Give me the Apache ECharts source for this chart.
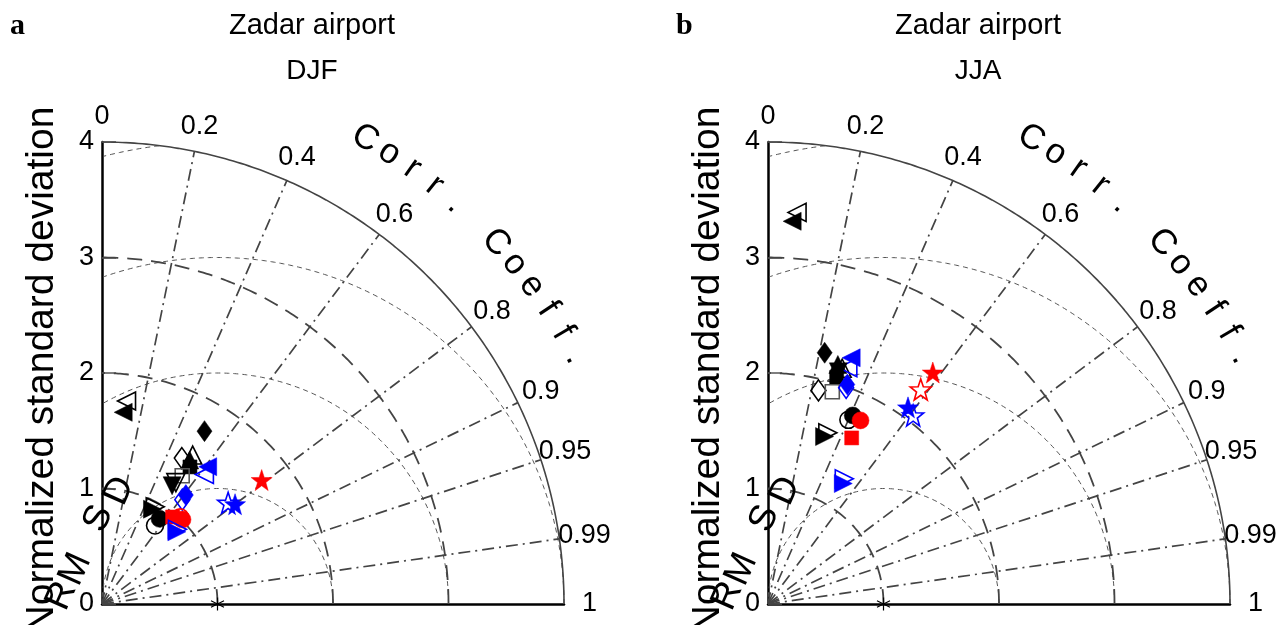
<!DOCTYPE html>
<html><head><meta charset="utf-8">
<script src="https://cdn.jsdelivr.net/npm/echarts@6/dist/echarts.min.js"></script>
<style>html,body{margin:0;padding:0;background:#fff}#c{width:1279px;height:625px}</style>
</head><body><div id="c"></div>
<script>
// ---------- data ----------
const panelLetters = ['a', 'b'];
const siteTitle = 'Zadar airport';
const seasons = ['DJF', 'JJA'];
const corrTickLabels = [0, 0.2, 0.4, 0.6, 0.8, 0.9, 0.95, 0.99, 1];
const corrRays = [0.2, 0.4, 0.6, 0.8, 0.9, 0.95, 0.99];
const sdArcs = [1, 2, 3];
const rmsdArcs = [1, 2, 3, 4];
const sdMax = 4;
const refStd = 1;
const corrTitle = ['C','o','r','r','.',' ','C','o','e','f','f','.'];
const rmsdTitle = ['R','M','S','D'];

// marker definitions (shape, colour, filled)
const markerShape  = ['ltri','ltri','diamond','diamond','utri','utri','square','square','ltri','ltri','dtri','dtri','diamond','diamond','rtri','rtri','circle','circle','square','circle','circle','rtri','rtri','star','star','star','star'];
const markerColor  = ['#000','#000','#000','#000','#000','#000','#000','#555','#0000ff','#0000ff','#000','#000','#0000ff','#0000ff','#000','#000','#000','#000','#ff0000','#ff0000','#ff0000','#0000ff','#0000ff','#0000ff','#0000ff','#ff0000','#ff0000'];
const markerFilled = [true,false,true,false,true,false,true,false,true,false,true,false,true,false,true,false,true,false,true,true,false,true,false,true,false,true,false];

// normalized standard deviation and correlation per marker
const djfStd  = [1.67,1.77,1.74,1.44,1.46,1.51,1.41,1.31,1.50,1.43,1.19,1.23,1.19,1.14,0.93,0.96,0.89,0.82,0.97,1.01,1.01,0.90,0.92,1.44,1.40,1.75,null];
const djfCorr = [0.11,0.12,0.51,0.48,0.52,0.52,0.54,0.53,0.61,0.62,0.51,0.52,0.61,0.61,0.47,0.48,0.56,0.56,0.63,0.69,0.67,0.72,0.71,0.80,0.78,0.79,null];
const jjaStd  = [3.32,3.40,2.23,1.90,2.16,2.14,2.05,1.92,2.25,2.16,2.10,null,2.02,1.99,1.53,1.57,1.79,1.74,1.61,1.78,null,1.23,1.27,2.09,2.06,2.46,2.28];
const jjaCorr = [0.063,0.074,0.22,0.23,0.28,0.30,0.29,0.29,0.32,0.32,0.29,null,0.34,0.34,0.32,0.33,0.41,0.40,0.45,0.45,null,0.53,0.52,0.58,0.61,0.58,0.58];

// ---------- drawing ----------
const FONT = '"Liberation Sans", Arial, Helvetica, sans-serif';
const STAR = 'path://M0,-10L2.35,-3.24L9.51,-3.09L3.8,1.24L5.88,8.09L0,4L-5.88,8.09L-3.8,1.24L-9.51,-3.09L-2.35,-3.24Z';
const ASTER = 'path://M0,-10L0,10M-8.66,-5L8.66,5M-8.66,5L8.66,-5';
const gridLefts = [102, 768];
const panelData = [[djfStd, djfCorr], [jjaStd, jjaCorr]];

function toXY(sd, c) { return [sd * c, sd * Math.sqrt(Math.max(0, 1 - c * c))]; }

const grids = [], xAxes = [], yAxes = [], series = [], graphics = [];

function lineS(p, pts, color, width, type) {
  return { type: 'line', xAxisIndex: p, yAxisIndex: p, data: pts, showSymbol: false, symbol: 'none',
    silent: true, animation: false, z: 2, lineStyle: { color: color, width: width, type: type, opacity: 1 } };
}
function textS(p, items, fontSize) {
  return { type: 'scatter', xAxisIndex: p, yAxisIndex: p, symbolSize: 0, clip: false, silent: true,
    animation: false, z: 5, itemStyle: { opacity: 1 },
    label: { show: true, position: 'inside', formatter: '{b}', color: '#000', fontSize: fontSize, fontFamily: FONT,
      align: 'center', verticalAlign: 'middle', opacity: 1, textBorderWidth: 0 },
    data: items };
}

panelData.forEach(function (pd, p) {
  grids.push({ left: gridLefts[p], top: 142, width: 462, height: 462 });
  xAxes.push({ gridIndex: p, type: 'value', min: 0, max: sdMax,
    axisLine: { show: true, lineStyle: { color: '#000', width: 2.5 } },
    axisTick: { show: false }, axisLabel: { show: false }, splitLine: { show: false } });
  yAxes.push({ gridIndex: p, type: 'value', min: 0, max: sdMax, interval: 1,
    axisLine: { show: true, lineStyle: { color: '#000', width: 2.5 } },
    axisTick: { show: true, inside: true, length: 14, lineStyle: { color: '#555', width: 1.5 } },
    axisLabel: { fontSize: 27, color: '#000', fontFamily: FONT, margin: 8 },
    splitLine: { show: false } });

  // RMSD arcs (centered at reference point)
  rmsdArcs.forEach(function (r) {
    const pts = [];
    for (let a = 0; a <= 180; a += 0.25) {
      const t = a * Math.PI / 180;
      const x = refStd + r * Math.cos(t), y = r * Math.sin(t);
      if (x >= 0 && x * x + y * y <= sdMax * sdMax + 1e-6) pts.push([x, y]);
    }
    series.push(lineS(p, pts, '#555', 1, [5, 4]));
  });
  // SD arcs
  sdArcs.forEach(function (r) {
    const pts = [];
    for (let a = 0; a <= 90; a += 0.5) { const t = a * Math.PI / 180; pts.push([r * Math.cos(t), r * Math.sin(t)]); }
    series.push(lineS(p, pts, '#444', 1.8, [15, 9]));
  });
  // correlation rays
  corrRays.forEach(function (c) {
    series.push(lineS(p, [[0, 0], toXY(sdMax, c)], '#444', 1.7, [12, 5, 2, 5]));
  });
  // outer arc
  const outer = [];
  for (let a = 0; a <= 90; a += 0.5) { const t = a * Math.PI / 180; outer.push([sdMax * Math.cos(t), sdMax * Math.sin(t)]); }
  series.push(lineS(p, outer, '#444', 1.6, 'solid'));

  // correlation tick labels
  series.push(textS(p, corrTickLabels.map(function (c) {
    return { name: String(c), value: toXY(4.22, c) };
  }), 27));
  // Corr. Coeff. title letters
  series.push(textS(p, corrTitle.map(function (ch, i) {
    const ang = 60.5 - 3 * i;
    const t = ang * Math.PI / 180;
    return { name: ch, value: [4.63 * Math.cos(t), 4.63 * Math.sin(t)], label: { rotate: ang - 90 } };
  }), 35));
  // RMSD letters
  const rmsdPos = [[-0.35, 0.07], [-0.23, 0.30], [-0.03, 0.74], [0.15, 0.98]];
  series.push(textS(p, rmsdTitle.map(function (ch, i) {
    return { name: ch, value: rmsdPos[i], label: { rotate: 66 } };
  }), 37));

  // reference point
  series.push({ type: 'scatter', xAxisIndex: p, yAxisIndex: p, animation: false, silent: true, z: 6,
    symbol: ASTER, symbolSize: 13, itemStyle: { color: 'none', borderColor: '#000', borderWidth: 1.2, opacity: 1 },
    data: [[refStd, 0]] });

  // markers
  const items = [];
  pd[0].forEach(function (sd, i) {
    const c = pd[1][i];
    if (sd == null || c == null) return;
    const shape = markerShape[i];
    let symbol = 'triangle', rot = 0, size = 18;
    if (shape === 'ltri') rot = 90;
    else if (shape === 'rtri') rot = -90;
    else if (shape === 'dtri') rot = 180;
    else if (shape === 'diamond') { symbol = 'diamond'; size = [15, 21]; }
    else if (shape === 'square') { symbol = 'rect'; size = 14; }
    else if (shape === 'circle') { symbol = 'circle'; size = 17; }
    else if (shape === 'star') { symbol = STAR; size = 21; }
    const col = markerColor[i];
    items.push({ value: toXY(sd, c), symbol: symbol, symbolRotate: rot, symbolSize: size,
      itemStyle: markerFilled[i] ? { color: col, borderColor: col, borderWidth: 0.5, opacity: 1 }
                                 : { color: 'rgba(255,255,255,0)', borderColor: col, borderWidth: 1.6, opacity: 1 } });
  });
  series.push({ type: 'scatter', xAxisIndex: p, yAxisIndex: p, animation: false, z: 7, clip: false,
    itemStyle: { opacity: 1 }, data: items });

  // texts
  const cx = gridLefts[p] + 210;
  graphics.push({ type: 'text', x: cx, y: 26, style: { text: siteTitle, font: '29px ' + FONT, textAlign: 'center', textVerticalAlign: 'middle', fill: '#000' } });
  graphics.push({ type: 'text', x: cx, y: 71, style: { text: seasons[p], font: '28px ' + FONT, textAlign: 'center', textVerticalAlign: 'middle', fill: '#000' } });
  graphics.push({ type: 'text', x: gridLefts[p] - 92, y: 26, style: { text: panelLetters[p], font: 'bold 30px "Liberation Serif", "Times New Roman", serif', textAlign: 'left', textVerticalAlign: 'middle', fill: '#000' } });
  graphics.push({ type: 'text', x: gridLefts[p] - 60, y: 370, rotation: Math.PI / 2, style: { text: 'Normalized standard deviation', font: '39px ' + FONT, textAlign: 'center', textVerticalAlign: 'middle', fill: '#000' } });
});

const chart = echarts.init(document.getElementById('c'), null, { renderer: 'canvas' });
chart.setOption({
  animation: false,
  backgroundColor: '#fff',
  grid: grids, xAxis: xAxes, yAxis: yAxes, series: series, graphic: graphics
});
</script>
</body></html>
